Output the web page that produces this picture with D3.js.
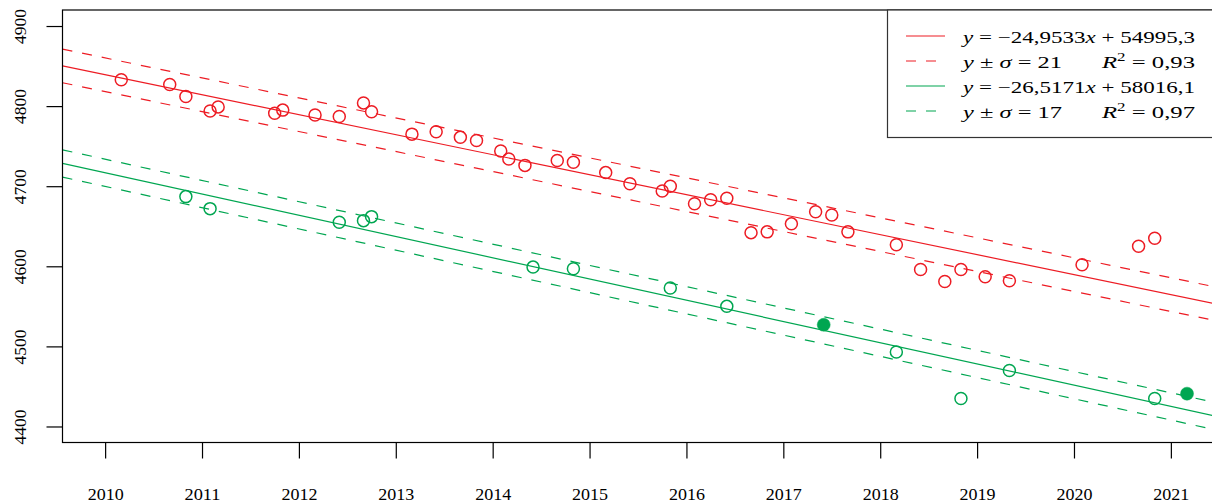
<!DOCTYPE html>
<html>
<head>
<meta charset="utf-8">
<script src="https://cdn.jsdelivr.net/npm/d3@7/dist/d3.min.js"></script>
<style>
  html, body { margin: 0; padding: 0; background: #fff; overflow: hidden; }
  svg { display: block; }
  text { font-family: "Liberation Serif", "Times New Roman", serif; fill: #000; }
</style>
</head>
<body>
<svg id="chart" width="1212" height="503"></svg>
<script>
// ---------- data ----------
const xTickValues = [2010, 2011, 2012, 2013, 2014, 2015, 2016, 2017, 2018, 2019, 2020, 2021];
const yTickValues = [4400, 4500, 4600, 4700, 4800, 4900];

const redDates = ["2010-03","2010-09","2010-11","2011-02","2011-03","2011-10","2011-11","2012-03","2012-06","2012-09","2012-10","2013-03","2013-06","2013-09","2013-11","2014-02","2014-03","2014-05","2014-09","2014-11","2015-03","2015-06","2015-10","2015-11","2016-02","2016-04","2016-06","2016-09","2016-11","2017-02","2017-05","2017-07","2017-09","2018-03","2018-06","2018-09","2018-11","2019-02","2019-05","2020-02","2020-09","2020-11"];
const redValues = [4833,4827,4812,4794,4799,4791,4795,4789,4787,4804,4793,4765,4768,4761,4757,4744,4734,4726,4732,4730,4717,4703,4694,4700,4678,4683,4685,4642,4643,4653,4668,4664,4643,4627,4596,4581,4596,4587,4582,4602,4625,4635];

const greenDates = ["2010-11","2011-02","2012-06","2012-09","2012-10","2014-06","2014-11","2015-11","2016-06","2017-06","2018-03","2018-11","2019-05","2020-11","2021-03"];
const greenValues = [4687,4672,4655,4657,4662,4599,4597,4573,4550,4527,4493,4435,4470,4435,4441];
const greenFilled = [0,0,0,0,0,0,0,0,0,1,0,0,0,0,1];

const fitSlopes = [-24.9533, -26.5171];
const fitIntercepts = [54995.3, 58016.1];
const fitSigmas = [21, 17];
const fitSlopeLabels = ["24,9533", "26,5171"];
const fitInterceptLabels = ["54995,3", "58016,1"];
const fitR2Labels = ["0,93", "0,97"];
const seriesColors = ["#ED1C24", "#00A651"];

// ---------- helpers ----------
const toYear = s => { const [y, m] = s.split("-").map(Number); return y + (m - 1) / 12; };

// ---------- layout ----------
const svg = d3.select("#chart");
const L = 62.5, R = 1213.5, T = 10, B = 442.5;
const x = d3.scaleLinear().domain([2009.56, 2021.44]).range([L, R]);
const y = d3.scaleLinear().domain([4380, 4920]).range([B, T]);

svg.append("defs").append("clipPath").attr("id", "clip")
  .append("rect").attr("x", L).attr("y", T).attr("width", R - L).attr("height", B - T);

const plot = svg.append("g").attr("clip-path", "url(#clip)");

// regression lines and sigma bands
const xd = x.domain();
fitSlopes.forEach((a, i) => {
  const b = fitIntercepts[i], s = fitSigmas[i];
  [0, s, -s].forEach(off => {
    plot.append("line")
      .attr("x1", x(xd[0])).attr("y1", y(a * xd[0] + b + off))
      .attr("x2", x(xd[1])).attr("y2", y(a * xd[1] + b + off))
      .attr("stroke", seriesColors[i])
      .attr("stroke-width", 1.2)
      .attr("stroke-dasharray", off === 0 ? null : "10,10");
  });
});

// points
const redPts = redDates.map((d, i) => ({ x: toYear(d), y: redValues[i], f: 0 }));
const greenPts = greenDates.map((d, i) => ({ x: toYear(d), y: greenValues[i], f: greenFilled[i] }));
[redPts, greenPts].forEach((pts, i) => {
  plot.selectAll(null).data(pts).enter().append("circle")
    .attr("cx", d => x(d.x)).attr("cy", d => y(d.y))
    .attr("r", d => d.f ? 6.5 : 6)
    .attr("fill", d => d.f ? seriesColors[i] : "none")
    .attr("stroke", seriesColors[i])
    .attr("stroke-width", d => d.f ? 0.5 : 1.5);
});

// frame
svg.append("rect").attr("x", L).attr("y", T).attr("width", R - L).attr("height", B - T)
  .attr("fill", "none").attr("stroke", "#000").attr("stroke-width", 1.2);

// axes
const fontSize = 17;
const xAxis = svg.append("g").attr("transform", `translate(0,${B})`)
  .call(d3.axisBottom(x).tickValues(xTickValues).tickFormat(d3.format("d")).tickSize(16).tickSizeOuter(0).tickPadding(29));
xAxis.select(".domain").remove();
xAxis.selectAll("line").attr("stroke", "#000").attr("stroke-width", 1.2);
xAxis.selectAll("text")
  .style("font-size", fontSize + "px").style("font-family", "Liberation Serif, serif")
  .attr("textLength", 36).attr("lengthAdjust", "spacingAndGlyphs");

const yAxis = svg.append("g").attr("transform", `translate(${L},0)`)
  .call(d3.axisLeft(y).tickValues(yTickValues).tickFormat(d3.format("d")).tickSize(16).tickSizeOuter(0));
yAxis.select(".domain").remove();
yAxis.selectAll("line").attr("stroke", "#000").attr("stroke-width", 1.2);
yAxis.selectAll("text")
  .attr("transform", "rotate(-90)")
  .attr("x", 0).attr("y", -37).attr("dy", 0)
  .attr("text-anchor", "middle")
  .attr("textLength", 35).attr("lengthAdjust", "spacingAndGlyphs")
  .style("font-size", fontSize + "px").style("font-family", "Liberation Serif, serif");

// legend
const lg = svg.append("g");
lg.append("rect").attr("x", 887.5).attr("y", T).attr("width", 340).attr("height", 127.5)
  .attr("fill", "#fff").attr("stroke", "#333").attr("stroke-width", 1.2);

const rowBase = [42.5, 67.5, 92.5, 117.5];
const lfs = 17.5;
function addRow(row, color, dashed, parts, len1, extraParts, len2) {
  const by = rowBase[row];
  lg.append("line").attr("x1", 906).attr("x2", 945).attr("y1", by - 6.5).attr("y2", by - 6.5)
    .attr("stroke", color).attr("stroke-width", 1.2)
    .attr("stroke-dasharray", dashed ? "10,10" : null);
  const t = lg.append("text").attr("x", 963).attr("y", by).style("font-size", lfs + "px")
    .attr("xml:space", "preserve").attr("textLength", len1).attr("lengthAdjust", "spacingAndGlyphs");
  parts.forEach(p => t.append("tspan").attr("font-style", p[1] ? "italic" : "normal").text(p[0]));
  if (extraParts) {
    const t2 = lg.append("text").attr("x", 1102).attr("y", by).style("font-size", lfs + "px")
      .attr("xml:space", "preserve").attr("textLength", len2).attr("lengthAdjust", "spacingAndGlyphs");
    extraParts.forEach(p => {
      const ts = t2.append("tspan").attr("font-style", p[1] ? "italic" : "normal").text(p[0]);
      if (p[2]) ts.attr("dy", p[2]).style("font-size", p[3]);
    });
  }
}
fitSlopes.forEach((a, i) => {
  addRow(i * 2, seriesColors[i], false,
    [["y", 1], [" = \u2212" + fitSlopeLabels[i], 0], ["x", 1], [" + " + fitInterceptLabels[i], 0]], 232);
  addRow(i * 2 + 1, seriesColors[i], true,
    [["y", 1], [" \u00B1 ", 0], ["\u03C3", 1], [" = " + fitSigmas[i], 0]], 99,
    [["R", 1], ["2", 0, -7, "12px"], [" = " + fitR2Labels[i], 0, 7, lfs + "px"]], 93);
});
</script>
</body>
</html>
